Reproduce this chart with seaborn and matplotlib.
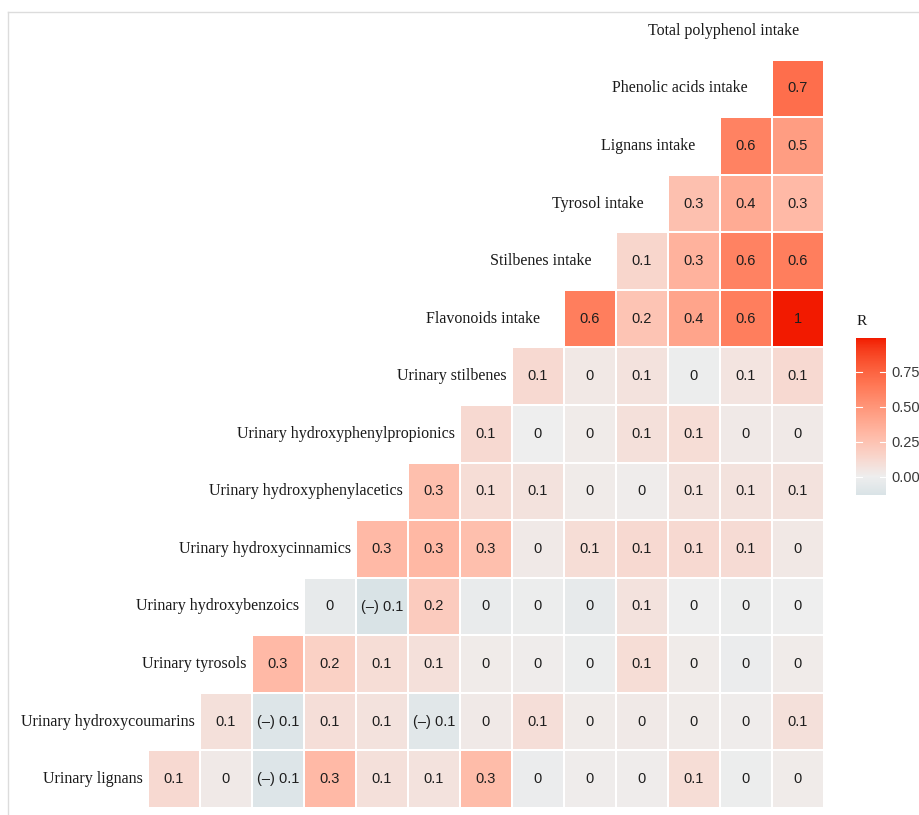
import numpy as np
import pandas as pd
import seaborn as sns
import matplotlib.pyplot as plt
from matplotlib.colors import ListedColormap, to_rgb
from matplotlib.lines import Line2D

# Variables, listed from the bottom row of the triangle to the top
variables = [
    "Urinary lignans",
    "Urinary hydroxycoumarins",
    "Urinary tyrosols",
    "Urinary hydroxybenzoics",
    "Urinary hydroxycinnamics",
    "Urinary hydroxyphenylacetics",
    "Urinary hydroxyphenylpropionics",
    "Urinary stilbenes",
    "Flavonoids intake",
    "Stilbenes intake",
    "Tyrosol intake",
    "Lignans intake",
    "Phenolic acids intake",
    "Total polyphenol intake",
]

# Correlation of each variable with every variable listed after it
r_urinary_lignans = [0.12, 0.03, -0.10, 0.30, 0.08, 0.07, 0.29, -0.02, 0.01, 0.01, 0.10, -0.01, 0.02]
r_urinary_hydroxycoumarins = [0.08, -0.10, 0.09, 0.07, -0.08, 0.03, 0.09, 0.02, 0.03, 0.02, 0.01, 0.08]
r_urinary_tyrosols = [0.30, 0.17, 0.10, 0.08, 0.02, 0.01, -0.01, 0.10, 0.02, -0.02, 0.02]
r_urinary_hydroxybenzoics = [-0.04, -0.13, 0.20, -0.03, -0.01, -0.04, 0.07, 0.00, -0.01, 0.00]
r_urinary_hydroxycinnamics = [0.30, 0.31, 0.27, 0.03, 0.10, 0.12, 0.12, 0.11, 0.04]
r_urinary_hydroxyphenylacetics = [0.27, 0.10, 0.07, 0.02, 0.01, 0.07, 0.07, 0.07]
r_urinary_hydroxyphenylpropionics = [0.12, 0.00, 0.02, 0.08, 0.10, 0.03, 0.03]
r_urinary_stilbenes = [0.12, 0.04, 0.07, -0.01, 0.06, 0.12]
r_flavonoids_intake = [0.62, 0.24, 0.42, 0.62, 0.99]
r_stilbenes_intake = [0.14, 0.34, 0.60, 0.62]
r_tyrosol_intake = [0.26, 0.38, 0.30]
r_lignans_intake = [0.60, 0.46]
r_phenolic_acids_intake = [0.70]

row_values = [
    r_urinary_lignans, r_urinary_hydroxycoumarins, r_urinary_tyrosols,
    r_urinary_hydroxybenzoics, r_urinary_hydroxycinnamics,
    r_urinary_hydroxyphenylacetics, r_urinary_hydroxyphenylpropionics,
    r_urinary_stilbenes, r_flavonoids_intake, r_stilbenes_intake,
    r_tyrosol_intake, r_lignans_intake, r_phenolic_acids_intake,
]

n = len(variables)
corr = np.full((n, n), np.nan)
for i, vals in enumerate(row_values):
    corr[i, i + 1:] = vals


def fmt_r(v):
    if np.isnan(v):
        return ""
    r = round(v, 1)
    if r <= -0.05:
        return "(\u2013) " + f"{abs(r):g}"
    return f"{abs(r):g}"


labels = np.vectorize(fmt_r, otypes=[object])(corr)

# Top row of the heatmap is the last variable
df = pd.DataFrame(corr[::-1], index=variables[::-1], columns=variables)
annot = labels[::-1]


# Diverging palette interpolated in CIELAB (low / mid / high)
def _lin(c):
    c = np.asarray(c, float)
    return np.where(c <= 0.04045, c / 12.92, ((c + 0.055) / 1.055) ** 2.4)


def _delin(c):
    c = np.clip(c, 0, 1)
    return np.where(c <= 0.0031308, 12.92 * c, 1.055 * c ** (1 / 2.4) - 0.055)


_M = np.array([[0.4124, 0.3576, 0.1805],
               [0.2126, 0.7152, 0.0722],
               [0.0193, 0.1192, 0.9505]])
_W = np.array([0.95047, 1.0, 1.08883])
_d = 6 / 29


def to_lab(hexcol):
    xyz = _M @ _lin(to_rgb(hexcol)) / _W
    f = np.where(xyz > _d ** 3, np.cbrt(xyz), xyz / (3 * _d ** 2) + 4 / 29)
    return np.array([116 * f[1] - 16, 500 * (f[0] - f[1]), 200 * (f[1] - f[2])])


def from_lab(lab):
    L, a, b = lab
    fy = (L + 16) / 116
    fx = fy + a / 500
    fz = fy - b / 200
    f = np.array([fx, fy, fz])
    xyz = np.where(f > _d, f ** 3, 3 * _d ** 2 * (f - 4 / 29)) * _W
    rgb = np.linalg.solve(_M, xyz)
    return np.clip(_delin(rgb), 0, 1)


low, mid, high = to_lab("#3B9AB2"), to_lab("#EEEEEE"), to_lab("#F21A00")
vmin, vmax = np.nanmin(corr), np.nanmax(corr)
extent = max(abs(vmin), abs(vmax))
samples = np.linspace(vmin, vmax, 256)
colors = []
for v in samples:
    t = v / extent
    lab = mid + t * (high - mid) if t >= 0 else mid + (-t) * (low - mid)
    colors.append(from_lab(lab))
cmap = ListedColormap(colors)

W, H = 919, 815
fig = plt.figure(figsize=(W / 100, H / 100), dpi=100)
fig.patch.set_facecolor("white")

ax = fig.add_axes([96 / W, 7 / H, 728 / W, 806 / H])
cax = fig.add_axes([856 / W, 1 - 495 / H, 30 / W, 157 / H])

sns.heatmap(
    df, ax=ax, cmap=cmap, vmin=vmin, vmax=vmax,
    annot=annot, fmt="",
    annot_kws={"fontsize": 10.5, "color": "#1e1e1e", "family": "Liberation Sans"},
    linewidths=0.35, linecolor="white",
    cbar_ax=cax, square=False,
)
ax.set_xticks([])
ax.set_yticks([])
ax.set_xlabel("")
ax.set_ylabel("")
for s in ax.spines.values():
    s.set_visible(False)

# Variable names along the diagonal
for k, name in enumerate(variables):
    shift = 0.40 if name.startswith("Urinary") else 0.03
    ax.text(k + 0.5 + shift, n - 1 - k + 0.5, name, ha="right", va="center",
            fontsize=11.5, family="Liberation Serif", color="#1a1a1a", clip_on=False)

# Colour legend
cbar = ax.collections[0].colorbar
cbar.outline.set_visible(False)
ticks = [0.0, 0.25, 0.5, 0.75]
cbar.set_ticks(ticks)
cbar.set_ticklabels([f"{t:.2f}" for t in ticks])
cax.tick_params(length=0, pad=4, labelsize=10.5, labelcolor="#3a3a3a")
for lab in cax.get_yticklabels():
    lab.set_family("Liberation Sans")
for t in ticks:
    cax.axhline(t, xmin=0, xmax=0.2, color="white", lw=0.8)
    cax.axhline(t, xmin=0.8, xmax=1, color="white", lw=0.8)
fig.text(857 / W, 1 - 322 / H, "R", ha="left", va="center",
         fontsize=11, family="Liberation Serif", color="#1a1a1a")

# Thin frame on the left and top edges
fig.add_artist(Line2D([8 / W, 8 / W], [0, 1 - 12 / H], color="#dcdcdc", lw=1,
                      transform=fig.transFigure))
fig.add_artist(Line2D([8 / W, 1], [1 - 12 / H, 1 - 12 / H], color="#dcdcdc", lw=1,
                      transform=fig.transFigure))

fig.savefig("out.png", dpi=100, facecolor="white")
